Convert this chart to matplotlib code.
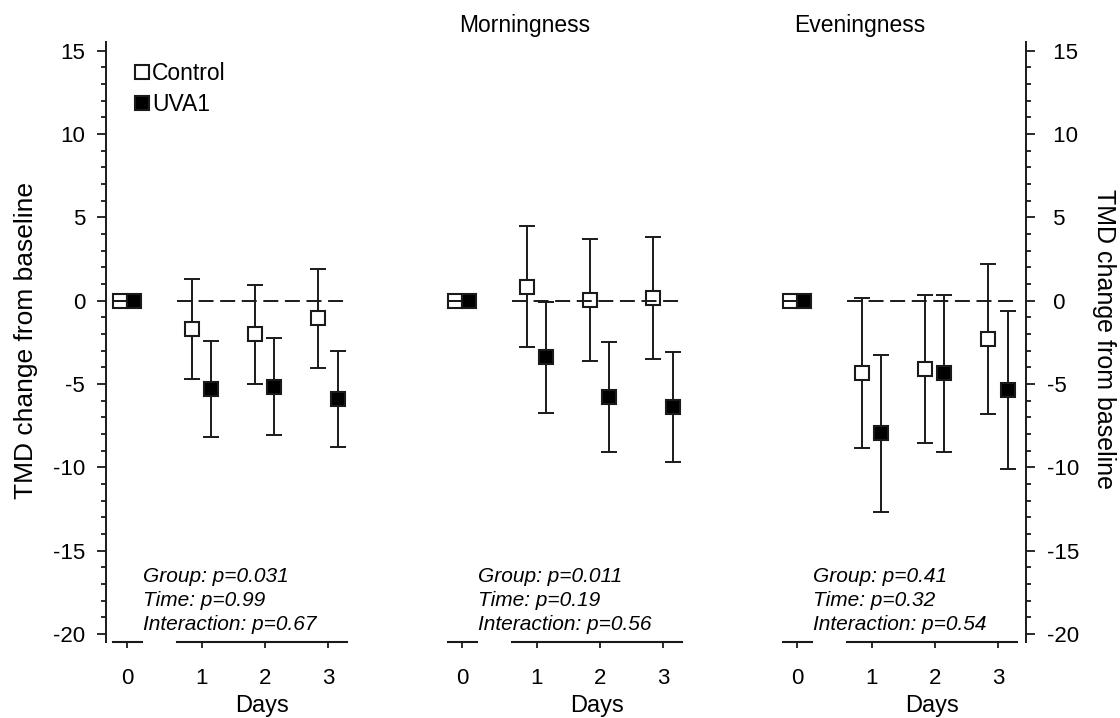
import matplotlib
matplotlib.use('Agg')
import matplotlib.pyplot as plt
from matplotlib.lines import Line2D
from matplotlib.ticker import MultipleLocator, FuncFormatter

plt.rcParams['font.family'] = ['Liberation Sans', 'DejaVu Sans']
plt.rcParams['axes.unicode_minus'] = False

# data
days = [1, 2, 3]
base_day = [0]
base_val = [0.0]
titles = ['', 'Morningness', 'Eveningness']

ctrl_mean = [[-1.7, -2.0, -1.05], [0.85, 0.05, 0.15], [-4.35, -4.1, -2.3]]
ctrl_err = [[3.0, 2.97, 2.98], [3.65, 3.65, 3.65], [4.5, 4.45, 4.5]]
uva_mean = [[-5.3, -5.15, -5.9], [-3.4, -5.8, -6.4], [-7.95, -4.35, -5.35]]
uva_err = [[2.9, 2.9, 2.9], [3.35, 3.3, 3.3], [4.7, 4.7, 4.75]]

p_group = ['0.031', '0.011', '0.41']
p_time = ['0.99', '0.19', '0.32']
p_inter = ['0.67', '0.56', '0.54']

W, H = 1120, 718
ink = '#1a1a1a'
fig = plt.figure(figsize=(W / 100, H / 100), dpi=100)

ax_top, ax_bot = 42.3, 641.6
def fax(left, width):
    return fig.add_axes([left / W, (H - ax_bot) / H, width / W, (ax_bot - ax_top) / H])

dodge = 0.152
dodge0 = 0.115
mk = dict(marker='s', ms=10, mew=1.5, mec=ink, ls='none', zorder=2, clip_on=False)
eb = dict(fmt='none', ecolor=ink, elinewidth=1.4, capsize=6.1, capthick=1.4)

for i, L in enumerate([113, 448, 783]):
    a0 = fax(L, 29)
    a1 = fax(L + 64, 170)
    for a in (a0, a1):
        a.set_ylim(-20.45, 15.5)
        for s in ('top', 'right', 'left'):
            a.spines[s].set_visible(False)
        a.spines['bottom'].set_linewidth(1.5)
        a.spines['bottom'].set_color(ink)
        a.tick_params(axis='y', which='both', left=False, right=False,
                      labelleft=False, labelright=False)
        a.tick_params(axis='x', direction='out', length=4.5, width=1.3,
                      color=ink, labelsize=16, pad=14.5)
        a.yaxis.set_major_locator(MultipleLocator(5))
        a.yaxis.set_minor_locator(MultipleLocator(1))
        a.patch.set_alpha(0)
    a0.set_xlim(-0.22, 0.24)
    a0.set_xticks([0])
    a1.set_xlim(0.61, 3.3)
    a1.set_xticks(days)

    # baseline day
    a0.plot([d - dodge0 for d in base_day], base_val, mfc='white', **mk)
    a0.plot([d + dodge0 for d in base_day], base_val, mfc='black', **mk)
    cap0 = a0.errorbar([d - dodge0 for d in base_day], base_val, yerr=[0], zorder=3, **eb)
    for c in cap0.lines[1]:
        c.set_clip_on(False)

    # days 1-3
    a1.errorbar([d - dodge for d in days], ctrl_mean[i], yerr=ctrl_err[i], zorder=1, **eb)
    a1.errorbar([d + dodge for d in days], uva_mean[i], yerr=uva_err[i], zorder=1, **eb)
    a1.plot([d - dodge for d in days], ctrl_mean[i], mfc='white', **mk)
    a1.plot([d + dodge for d in days], uva_mean[i], mfc='black', **mk)
    a1.axhline(0, color=ink, lw=1.4, ls=(0, (7.7, 3.4)), zorder=3)

    a1.set_xlabel('Days', fontsize=17, labelpad=4)

    if titles[i]:
        fig.text((L + 11) / W, 1 - 32 / H, titles[i], fontsize=16.5,
                 ha='left', va='baseline')

    for k, txt in enumerate(['Group: p=' + p_group[i], 'Time: p=' + p_time[i],
                             'Interaction: p=' + p_inter[i]]):
        fig.text((L + 30) / W, 1 - (577 + 23.5 * k) / H, txt, fontsize=15,
                 style='italic', ha='left', va='center')

    if i == 0:
        sp = a0.spines['left']
        sp.set_visible(True)
        sp.set_position(('outward', 5))
        sp.set_linewidth(1.4)
        sp.set_color(ink)
        a0.tick_params(axis='y', which='both', left=True, labelleft=True,
                       direction='out', color=ink, width=1.3, labelsize=16, pad=8.6)
        a0.tick_params(axis='y', which='major', length=6.5)
        a0.tick_params(axis='y', which='minor', length=3.6)
    if i == 2:
        sp = a1.spines['right']
        sp.set_visible(True)
        sp.set_position(('outward', 6.5))
        sp.set_linewidth(1.4)
        sp.set_color(ink)
        a1.tick_params(axis='y', which='both', right=True, labelright=True,
                       direction='out', color=ink, width=1.3, labelsize=16, pad=8.6)
        a1.tick_params(axis='y', which='major', length=6.5)
        a1.tick_params(axis='y', which='minor', length=3.6)
        a1.yaxis.set_major_formatter(FuncFormatter(
            lambda v, p: f'{v:.0f}' if v < 0 else f' {v:.0f}'))

fig.text(26 / W, 1 - 341 / H, 'TMD change from baseline', fontsize=19,
         rotation=90, ha='center', va='center')
fig.text(1104 / W, 1 - 339 / H, 'TMD change from baseline', fontsize=18,
         rotation=270, ha='center', va='center')

handles = [Line2D([], [], marker='s', ls='none', ms=10, mew=1.5, mec=ink, mfc='white'),
           Line2D([], [], marker='s', ls='none', ms=10, mew=1.5, mec=ink, mfc='black')]
fig.legend(handles, ['Control', 'UVA1'], loc='upper left',
           bbox_to_anchor=(134 / W, 1 - 62 / H), frameon=False, fontsize=16.5,
           handlelength=0.7, handletextpad=0.08, borderpad=0, borderaxespad=0,
           labelspacing=0.33)

fig.savefig('out.png', dpi=100)
